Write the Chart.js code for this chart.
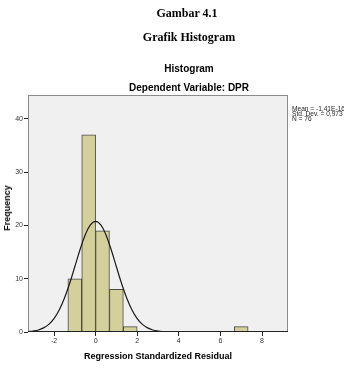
<!DOCTYPE html>
<html>
<head>
<meta charset="utf-8">
<script src="https://cdn.jsdelivr.net/npm/chart.js@4/dist/chart.umd.min.js"></script>
<style>
  html, body { margin: 0; padding: 0; background: #fff; }
  #wrap { position: relative; width: 344px; height: 370px; overflow: hidden; }
  #wrap canvas { position: absolute; left: 0; top: 0; }
  .t { position: absolute; white-space: nowrap; color: #000; }
  .serif { font-family: "Liberation Serif", "DejaVu Serif", serif; font-weight: bold; font-size: 12px; }
  .sans { font-family: "Liberation Sans", Arial, sans-serif; font-weight: bold; }
  .stats { position: absolute; left: 292px; top: 107px; font-family: "Liberation Sans", Arial, sans-serif; font-size: 6.6px; line-height: 4.8px; color: #222; white-space: nowrap; }
</style>
</head>
<body>
<div id="wrap">
  <canvas id="chart" width="344" height="370"></canvas>
  <div class="t serif" style="left:187px; top:13px; transform:translate(-50%,-50%)">Gambar 4.1</div>
  <div class="t serif" style="left:189px; top:37px; transform:translate(-50%,-50%)">Grafik Histogram</div>
  <div class="t sans" style="left:189px; top:68px; font-size:10px; transform:translate(-50%,-50%)">Histogram</div>
  <div class="t sans" style="left:189px; top:87px; font-size:10px; transform:translate(-50%,-50%)">Dependent Variable: DPR</div>
  <div class="t sans" style="left:7px; top:208px; font-size:9px; transform:translate(-50%,-50%) rotate(-90deg)">Frequency</div>
  <div class="t sans" style="left:158px; top:356px; font-size:9px; transform:translate(-50%,-50%)">Regression Standardized Residual</div>
  <div class="stats">Mean = -1,41E-16<br>Std. Dev. = 0,973<br>N = 76</div>
</div>
<script>
// histogram bins (centers of bins, width 2/3) and counts
const binCenters = [-1, -0.333, 0.333, 1, 1.667, 7];
const binCounts = [10, 37, 19, 8, 1, 1];

// normal curve
const curveX = [-3.25, -3, -2.75, -2.5, -2.25, -2, -1.75, -1.5, -1.25, -1, -0.75, -0.5, -0.25, 0,
  0.25, 0.5, 0.75, 1, 1.25, 1.5, 1.75, 2, 2.25, 2.5, 2.75, 3, 3.25, 3.5, 3.75, 4];
const curveY = [0.08, 0.18, 0.38, 0.77, 1.43, 2.51, 4.12, 6.33, 9.10, 12.25, 15.44, 18.21, 20.10, 20.78,
  20.10, 18.21, 15.44, 12.25, 9.10, 6.33, 4.12, 2.51, 1.43, 0.77, 0.38, 0.18, 0.08, 0.03, 0.01, 0];

const xTicks = [-2, 0, 2, 4, 6, 8];
const yTicks = [0, 10, 20, 30, 40];

// plot background + frame
const plotFrame = {
  id: 'plotFrame',
  beforeDraw(chart) {
    const { ctx, chartArea: a } = chart;
    ctx.save();
    ctx.fillStyle = '#f0f0f0';
    ctx.fillRect(a.left, a.top, a.right - a.left, a.bottom - a.top);
    ctx.restore();
  },
  afterDraw(chart) {
    const { ctx, chartArea: a } = chart;
    ctx.save();
    ctx.strokeStyle = '#8a8a8a';
    ctx.lineWidth = 1;
    ctx.strokeRect(a.left + 0.5, a.top + 0.5, a.right - a.left - 1, a.bottom - a.top - 1);
    ctx.strokeStyle = '#222';
    ctx.beginPath();
    ctx.moveTo(a.left, a.bottom - 0.5);
    ctx.lineTo(a.right, a.bottom - 0.5);
    ctx.stroke();
    ctx.restore();
  }
};

const tickFont = { family: '"Liberation Sans", Arial, sans-serif', size: 7 };

new Chart(document.getElementById('chart'), {
  type: 'bar',
  data: {
    datasets: [
      {
        type: 'line',
        data: curveX.map((x, i) => ({ x, y: curveY[i] })),
        borderColor: '#1a1a1a',
        borderWidth: 1.2,
        pointRadius: 0,
        tension: 0.4,
        fill: false,
        order: 0
      },
      {
        type: 'bar',
        data: binCenters.map((x, i) => ({ x, y: binCounts[i] })),
        backgroundColor: '#d4d09b',
        borderColor: '#4a4a4a',
        borderWidth: 1,
        barPercentage: 1,
        categoryPercentage: 1,
        grouped: false,
        order: 1
      }
    ]
  },
  options: {
    responsive: false,
    animation: false,
    layout: { padding: { top: 95, left: 0, right: 56, bottom: 0 } },
    plugins: { legend: { display: false }, tooltip: { enabled: false } },
    scales: {
      x: {
        type: 'linear',
        min: -3.25,
        max: 9.25,
        offset: false,
        afterBuildTicks: s => { s.ticks = xTicks.map(v => ({ value: v })); },
        afterFit: s => { s.height = 38; },
        grid: { offset: false, drawOnChartArea: false, drawTicks: true, tickLength: 4, color: '#222' },
        border: { display: false },
        ticks: { font: tickFont, color: '#333', padding: 1, maxRotation: 0 }
      },
      y: {
        min: 0,
        max: 44.5,
        afterBuildTicks: s => { s.ticks = yTicks.map(v => ({ value: v })); },
        afterFit: s => { s.width = 28; },
        grid: { drawOnChartArea: false, drawTicks: true, tickLength: 4, color: '#222' },
        border: { display: false },
        ticks: { font: tickFont, color: '#333', padding: 1 }
      }
    }
  },
  plugins: [plotFrame]
});
</script>
</body>
</html>
